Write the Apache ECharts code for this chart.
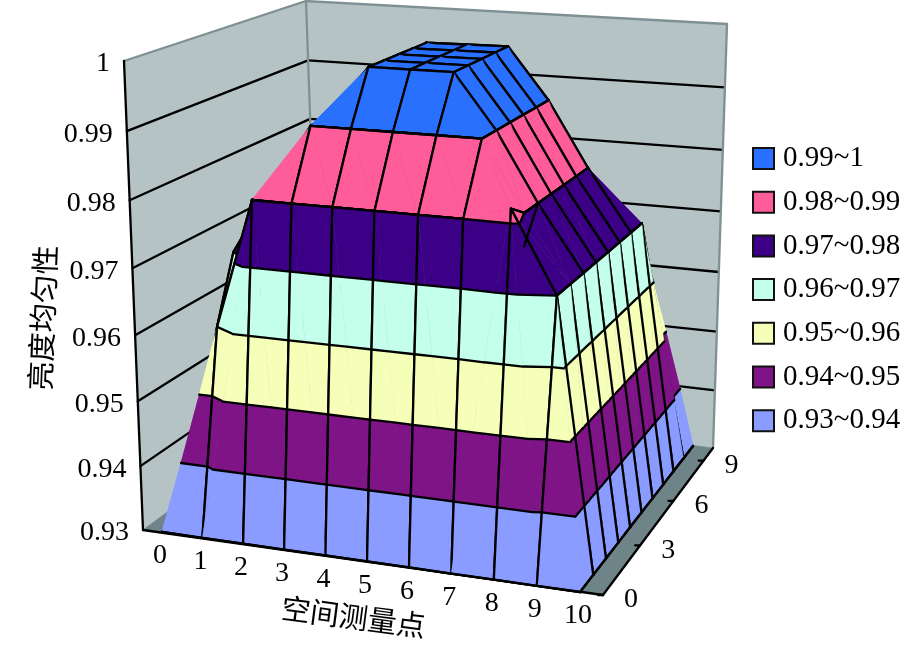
<!DOCTYPE html>
<html><head><meta charset="utf-8">
<script src="https://cdn.jsdelivr.net/npm/echarts@6/dist/echarts.min.js"></script>
<style>html,body{margin:0;padding:0;background:#fff}#c{width:921px;height:645px}</style>
</head><body><div id="c"></div>
<script>
// ---- data ----
const xLabels = ['0','1','2','3','4','5','6','7','8','9','10'];
const yLabels = ['0','','','3','','','6','','','9',''];
const zTicks = [0.93,0.94,0.95,0.96,0.97,0.98,0.99,1];
const zTickLabels = ['0.93','0.94','0.95','0.96','0.97','0.98','0.99','1'];
const bandNames = ['0.99~1','0.98~0.99','0.97~0.98','0.96~0.97','0.95~0.96','0.94~0.95','0.93~0.94'];
const bandColors = ['#2970FF','#FF5C9A','#3C0086','#C3FFEB','#F5FFB8','#7F1487','#8A9CFF'];
const bandLow = [0.99,0.98,0.97,0.96,0.95,0.94,0.93];
const row0  = [.93,.93,.93,.93,.93,.93,.93,.93,.93,.93,.93];
const row1  = [.93,.96,.98,.98,.98,.98,.98,.98,.982,.97,.93];
const row2  = [.93,.97,.98,.99,.99,.99,.99,.99,.98,.97,.93];
const row3  = [.93,.97,.98,.99,.998,.998,.998,.99,.98,.97,.93];
const row4  = [.93,.97,.98,.99,.998,.998,.998,.99,.98,.97,.93];
const row5  = [.93,.97,.98,.99,.998,.998,.998,.99,.98,.97,.93];
const row6  = [.93,.97,.98,.99,.998,.998,.998,.99,.98,.97,.93];
const row7  = [.93,.97,.98,.99,.998,.998,.998,.99,.98,.97,.93];
const row8  = [.93,.97,.97,.97,.97,.97,.97,.97,.97,.97,.93];
const row9  = [.93,.96,.96,.96,.96,.96,.96,.96,.96,.96,.93];
const row10 = [.93,.93,.93,.93,.93,.93,.93,.93,.93,.93,.93];
const Z = [row0,row1,row2,row3,row4,row5,row6,row7,row8,row9,row10];
const xTitle = '空间测量点', zTitle = '亮度均匀性';
const foldEdge = [[8,3,.98],[8,2,.975]];
const hiddenEdges = ['7,2-8,2','8,2-9,2','7,1-8,1'];

// ---- view of the 3D box (where the picture's camera puts things) ----
const bottomQuad = [[143,530],[603,595],[713,448],[320,398]];
const topQuad    = [[124,61],[612,109],[727,24],[306,1]];
const surfBase   = [[162,532],[580,592],[693,446],[337,400]]; // x 0..10, y 0..10 at z .93
const surfUpper  = [[252,200],[510,223],[588,168],[348,152]]; // x 2..8,  y 1..7  at z .98
const zMin = 0.93, zMax = 1;
function homography(q){
  const [p0,p1,p2,p3]=q;
  const dx1=p1[0]-p2[0],dx2=p3[0]-p2[0],sx=p0[0]-p1[0]+p2[0]-p3[0];
  const dy1=p1[1]-p2[1],dy2=p3[1]-p2[1],sy=p0[1]-p1[1]+p2[1]-p3[1];
  const den=dx1*dy2-dx2*dy1;
  const g=(sx*dy2-dx2*sy)/den,h=(dx1*sy-sx*dy1)/den;
  const a=p1[0]-p0[0]+g*p1[0],b=p3[0]-p0[0]+h*p3[0],c=p0[0];
  const d=p1[1]-p0[1]+g*p1[1],e=p3[1]-p0[1]+h*p3[1],f=p0[1];
  return (u,v)=>{const w=g*u+h*v+1;return [(a*u+b*v+c)/w,(d*u+e*v+f)/w];};
}
const H0=homography(bottomQuad),H1=homography(topQuad),S0=homography(surfBase),S1=homography(surfUpper);
function projUV(u,v,z){
  let t=(z-zMin)/(zMax-zMin); t=t-0.055*t*(1-t);
  const p=H0(u,v),q=H1(u,v);
  return [p[0]+(q[0]-p[0])*t,p[1]+(q[1]-p[1])*t];
}
function proj(x,y,z){
  const t=(z-zMin)/0.05,p=S0(x/10,y/10),q=S1((x-2)/6,(y-1)/6);
  const over=Math.max(0,t-1);
  return [p[0]+(q[0]-p[0])*t+22*over,p[1]+(q[1]-p[1])*t-20*over];
}

const LINE={stroke:'#000',lineWidth:2.3,lineCap:'round',lineJoin:'round'};
function poly(api,pts,fill){
  return {type:'polygon',shape:{points:pts.map(p=>api.coord(p))},
    style:{fill,stroke:fill,lineWidth:0.6},silent:true};
}
function seg(api,a,b,style){
  const A=api.coord(a),B=api.coord(b);
  return {type:'line',shape:{x1:A[0],y1:A[1],x2:B[0],y2:B[1]},style:style||LINE,silent:true};
}
function clip(pts,level,above){
  const out=[];
  for(let k=0;k<pts.length;k++){
    const a=pts[k],b=pts[(k+1)%pts.length];
    const ia=above?a[2]>=level-1e-9:a[2]<=level+1e-9;
    const ib=above?b[2]>=level-1e-9:b[2]<=level+1e-9;
    if(ia)out.push(a);
    if(ia!==ib){const t=(level-a[2])/(b[2]-a[2]);
      out.push([a[0]+(b[0]-a[0])*t,a[1]+(b[1]-a[1])*t,level]);}
  }
  return out;
}
function contour(tri,level){
  const out=[];
  for(let k=0;k<3;k++){
    const a=tri[k],b=tri[(k+1)%3],da=a[2]-level,db=b[2]-level;
    if(Math.abs(da)<1e-9)out.push(a);
    else if(da*db<-1e-18&&Math.abs(db)>1e-9){const t=da/(da-db);
      out.push([a[0]+(b[0]-a[0])*t,a[1]+(b[1]-a[1])*t,level]);}
  }
  return out.length===2?out:null;
}
function renderCell(params,api){
  const i=api.value(0),j=api.value(1);
  const P=(a,b)=>[a,b,Z[b][a]];
  const a=P(i,j),b=P(i+1,j),c=P(i+1,j+1),d=P(i,j+1);
  const tris=Math.abs(a[2]-c[2])>=Math.abs(b[2]-d[2])+1e-9
    ?[{t:[a,c,d],e:[[c,d],[d,a]]},{t:[a,b,c],e:[[a,b],[b,c]]}]
    :[{t:[b,c,d],e:[[b,c],[c,d]]},{t:[a,b,d],e:[[a,b],[d,a]]}];
  const kids=[];
  tris.forEach(({t,e})=>{
    bandLow.forEach((lo,idx)=>{
      let p=clip(t,lo,true);if(p.length>2)p=clip(p,lo+0.01,false);
      if(p.length>2)kids.push(poly(api,p.map(q=>proj(q[0],q[1],q[2])),bandColors[idx]));
    });
    zTicks.forEach(L=>{
      const s=contour(t,L);
      if(s)kids.push(seg(api,proj(...s[0]),proj(...s[1])));
    });
    e.forEach(g=>{
      const s=[g[0],g[1]].sort((m,n)=>m[1]-n[1]||m[0]-n[0]);
      const key=`${s[0][0]},${s[0][1]}-${s[1][0]},${s[1][1]}`;
      if(hiddenEdges.indexOf(key)<0)kids.push(seg(api,proj(...g[0]),proj(...g[1])));
    });
  });
  return {type:'group',children:kids};
}
const cells=[];
for(let j=9;j>=0;j--)for(let i=0;i<10;i++)cells.push([i,j]);

const WALL='#B5C3C4',FLOOR='#6F8488',EDGE='#7F9095';
const GRAY={stroke:EDGE,lineWidth:2.3,lineCap:'round'};
function renderBox(params,api){
  const q=(u,v,z)=>projUV(u,v,z);
  const k=[
    poly(api,[q(0,0,zMin),q(0,1,zMin),q(0,1,zMax),q(0,0,zMax)],WALL),
    poly(api,[q(0,1,zMin),q(1,1,zMin),q(1,1,zMax),q(0,1,zMax)],WALL),
    poly(api,[q(0,0,zMin),q(1,0,zMin),q(1,1,zMin),q(0,1,zMin)],FLOOR)
  ];
  zTicks.slice(1,-1).forEach(z=>{
    k.push(seg(api,q(0,0,z),q(0,1,z)));
    k.push(seg(api,q(0,1,z),q(1,1,z)));
  });
  k.push(seg(api,q(0,0,zMax),q(0,1,zMax),GRAY));
  k.push(seg(api,q(0,1,zMax),q(1,1,zMax),GRAY));
  k.push(seg(api,q(1,1,zMax),q(1,1,zMin),GRAY));
  k.push(seg(api,q(0,1,zMax),q(0,1,zMin),GRAY));
  k.push(seg(api,q(0,0,zMin),q(0,0,zMax)));
  k.push(seg(api,q(0,0,zMin),q(1,0,zMin)));
  k.push(seg(api,q(1,0,zMin),q(1,1,zMin)));
  return {type:'group',children:k};
}
const FONT='"Liberation Serif","Noto Sans CJK SC",serif';
function label(api,p,text,dx,dy,align,size,rot){
  const c=api.coord(p);
  return {type:'text',x:c[0]+dx,y:c[1]+dy,rotation:rot||0,silent:true,
    style:{text,fill:'#000',font:`${size||28}px ${FONT}`,textAlign:align||'center',textVerticalAlign:'middle'}};
}
function renderLabels(params,api){
  const k=[];
  zTicks.forEach((z,n)=>k.push(label(api,projUV(0,0,z),zTickLabels[n],-14,3,'right')));
  xLabels.forEach((t,n)=>k.push(label(api,proj(n,0,zMin),t,-2,24)));
  yLabels.forEach((t,n)=>{
    const a=projUV(1,n/10,zMin);
    if(t){k.push(label(api,a,t,28,5));
      k.push(seg(api,[a[0]-5,a[1]],[a[0]+0,a[1]]));}
  });
  k.push(seg(api,proj(...foldEdge[0]),proj(...foldEdge[1])));
  k.push(label(api,[353,620],xTitle,0,0,'center',29,-0.13));
  k.push(label(api,[46,318],zTitle,0,0,'center',29,1.53));
  return {type:'group',children:k};
}
const chart=echarts.init(document.getElementById('c'),null,{renderer:'canvas'});
chart.setOption({
  animation:false,backgroundColor:'#fff',
  grid:{left:0,right:0,top:0,bottom:0},
  xAxis:{type:'value',min:0,max:921,show:false},
  yAxis:{type:'value',min:0,max:645,inverse:true,show:false},
  legend:{orient:'vertical',left:747,top:139,itemWidth:21,itemHeight:21,itemGap:14.7,selectedMode:false,
    icon:'rect',data:bandNames,
    itemStyle:{borderColor:'#111',borderWidth:2},
    textStyle:{fontFamily:'Liberation Serif',fontSize:29,color:'#000',padding:[0,0,0,4]}},
  series:[
    {type:'custom',name:'box',coordinateSystem:'cartesian2d',clip:false,silent:true,data:[[0,0]],renderItem:renderBox,z:1},
    {type:'custom',name:'surface',coordinateSystem:'cartesian2d',clip:false,silent:true,data:cells,renderItem:renderCell,z:2,encode:{x:0,y:1}},
    {type:'custom',name:'labels',coordinateSystem:'cartesian2d',clip:false,silent:true,data:[[0,0]],renderItem:renderLabels,z:3}
  ].concat(bandNames.map((n,k)=>({type:'custom',name:n,data:[],itemStyle:{color:bandColors[k]},renderItem:()=>null})))
});
</script></body></html>
